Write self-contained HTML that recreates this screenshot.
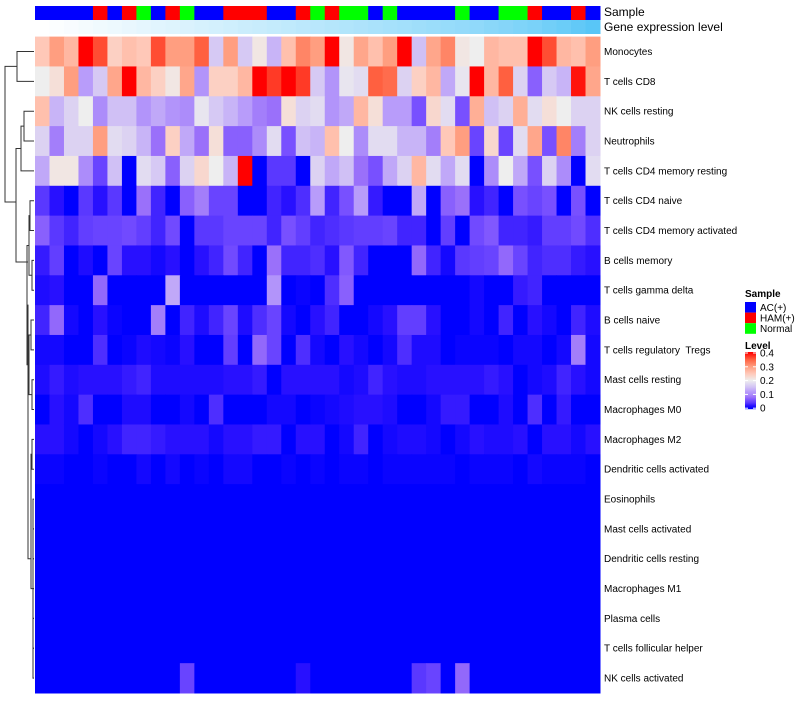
<!DOCTYPE html>
<html><head><meta charset="utf-8"><style>
body{margin:0;background:#fff;width:800px;height:700px;overflow:hidden;font-family:"Liberation Sans",sans-serif}
svg text{font-family:"Liberation Sans",sans-serif}
</style></head><body>
<svg id="c" width="800" height="700"></svg>
<script>
const rowNames=["Monocytes","T cells CD8","NK cells resting","Neutrophils","T cells CD4 memory resting","T cells CD4 naive","T cells CD4 memory activated","B cells memory","T cells gamma delta","B cells naive","T cells regulatory  Tregs","Mast cells resting","Macrophages M0","Macrophages M2","Dendritic cells activated","Eosinophils","Mast cells activated","Dendritic cells resting","Macrophages M1","Plasma cells","T cells follicular helper","NK cells activated"];
const sampleGroups=["A","A","A","A","H","A","H","N","A","H","N","A","A","H","H","H","A","A","H","N","H","N","N","A","N","A","A","A","A","N","A","A","N","N","H","A","A","H","A"];
const geneLevel=[0,0.02,0.04,0.06,0.08,0.1,0.12,0.14,0.16,0.18,0.2,0.22,0.24,0.26,0.28,0.3,0.32,0.34,0.36,0.38,0.4,0.42,0.44,0.46,0.48,0.5,0.52,0.54,0.56,0.58,0.6,0.63,0.66,0.69,0.72,0.76,0.8,0.85,0.9];
const r0=[.25,.3,.27,.4,.36,.24,.26,.25,.36,.3,.3,.35,.16,.3,.16,.21,.14,.26,.32,.3,.4,.21,.29,.26,.3,.4,.15,.29,.32,.21,.2,.27,.26,.26,.4,.36,.27,.26,.3];
const r1=[.2,.22,.3,.12,.16,.29,.4,.27,.24,.21,.29,.11,.24,.24,.27,.4,.37,.4,.37,.16,.11,.19,.18,.35,.34,.17,.24,.27,.13,.19,.4,.27,.35,.17,.07,.16,.14,.39,.29];
const r2=[.26,.14,.17,.2,.1,.15,.15,.11,.13,.11,.1,.19,.16,.14,.12,.09,.08,.22,.17,.18,.11,.13,.27,.22,.12,.12,.06,.23,.18,.06,.28,.15,.17,.28,.18,.22,.2,.17,.17];
const r3=[.17,.09,.17,.17,.3,.18,.17,.14,.08,.24,.13,.08,.22,.07,.07,.1,.18,.06,.15,.14,.26,.2,.1,.18,.18,.14,.14,.09,.25,.3,.05,.23,.05,.18,.29,.06,.32,.09,.17];
const r4=[.13,.21,.21,.1,.05,.15,0,.18,.16,.07,.17,.23,.2,.14,.4,0,.04,.04,0,.17,.13,.15,.08,.06,.13,.17,.27,.18,.13,.18,0,.1,.2,.13,.06,.17,.1,0,.18];
const r5=[.04,.02,0,.04,.02,.04,0,.08,.03,0,.07,.09,.05,.05,0,0,.03,.02,.035,.12,.03,.06,.12,.025,0,0,.13,0,.07,.08,.02,.03,0,.06,.05,.06,0,.06,0];
const r6=[.07,.04,.03,.045,.05,.05,.055,.045,.03,.055,0,.04,.04,.05,.05,.05,.03,.06,.045,.03,.035,.04,.045,.045,.05,.03,.03,0,.045,0,.055,.065,.03,.03,.025,.045,.045,.055,.035];
const r7=[.025,.045,0,.015,0,.05,.02,.02,.01,.02,0,.02,.03,.055,.03,0,.08,.03,.03,.035,.02,.065,.03,0,0,0,.075,.03,.01,.04,.045,.05,.075,.05,.03,.035,.035,.025,.02];
const r8=[.015,.02,0,0,.075,0,0,0,0,.13,0,0,0,0,0,0,.11,0,.005,0,.035,.07,0,0,0,0,0,0,0,0,.01,0,0,.025,.03,0,0,0,0];
const r9=[.03,.075,.01,0,.02,.005,0,0,.09,0,.03,.015,.03,.05,.015,.035,.05,.01,0,.02,.03,0,0,.01,.02,.045,.045,.02,0,0,.01,0,.03,0,.02,.01,0,.03,.015];
const r10=[.01,.01,0,0,.035,0,.005,.015,.01,.005,.02,0,0,.045,0,.075,.05,0,.035,.01,0,.02,.01,0,.01,.035,.015,.015,0,.005,.005,.005,0,.01,.01,0,.01,.09,.01];
const r11=[.015,.025,.015,.02,.02,.02,.025,.03,.015,.015,.015,.015,.015,.02,.02,.025,0,.02,.02,.02,.02,.01,.015,.03,.02,.015,.015,.02,.02,.02,.02,.025,.02,0,.01,.015,.03,.02,.01];
const r12=[0,.02,.01,.035,0,0,.015,.015,0,0,.01,0,.035,0,0,0,.01,.01,0,.005,.01,.015,.02,.02,.015,0,0,.01,.025,.025,0,0,.015,0,.035,0,.025,0,0];
const r13=[.02,.02,.01,0,.01,.02,.03,.03,.025,.02,.02,.02,.01,.02,.02,.025,.025,0,.02,.02,0,.01,.03,0,.01,.015,.015,.01,0,.01,.02,.015,.015,.02,0,.02,.02,.01,.02];
const r14=[.005,.005,0,0,.005,0,0,.01,0,.01,0,.005,0,.01,.01,0,0,.005,0,.005,0,.005,.005,0,.005,.005,.005,.005,.005,0,.005,.005,.005,0,.01,.005,.005,.005,0];
const z=new Array(39).fill(0);
const r21=[0,0,0,0,0,0,0,0,0,0,.05,0,0,0,0,0,0,0,.02,0,0,0,0,0,0,0,.04,.05,0,.075,0,0,0,0,0,0,0,0,0];
const values=[r0,r1,r2,r3,r4,r5,r6,r7,r8,r9,r10,r11,r12,r13,r14,z,z,z,z,z,z,r21];
const legendTicks=["0.4","0.3","0.2","0.1","0"];

const NS="http://www.w3.org/2000/svg";
const svg=document.getElementById('c');
function mk(t,a,p){const e=document.createElementNS(NS,t);for(const k in a)e.setAttribute(k,a[k]);(p||svg).appendChild(e);return e;}
const X0=35,X1=600,Y0=36.6,Y1=693;
const nC=sampleGroups.length,nR=rowNames.length;
const cw=(X1-X0)/nC,rh=(Y1-Y0)/nR;
const xs=i=>X0+i*cw, ys=j=>Y0+j*rh;
const stops=[[0,[0,0,255]],[.02,[40,16,255]],[.04,[90,56,255]],[.06,[120,80,255]],[.08,[154,112,250]],[.1,[172,140,250]],[.12,[184,156,250]],[.15,[208,192,245]],[.2,[238,238,238]],[.25,[255,200,184]],[.3,[255,158,128]],[.35,[255,96,64]],[.4,[255,0,0]]];
function col(v){v=Math.max(0,Math.min(.4,v));for(let i=1;i<stops.length;i++){if(v<=stops[i][0]){const a=stops[i-1],b=stops[i],t=(v-a[0])/(b[0]-a[0]);return 'rgb('+a[1].map((c,k)=>Math.round(c+(b[1][k]-c)*t)).join(',')+')';}}return 'rgb(255,0,0)';}
const gcol={A:'#0000ff',H:'#ff0000',N:'#00ff00'};
function gl(v){const a=[255,255,255],b=[70,192,246];return 'rgb('+a.map((c,k)=>Math.round(c+(b[k]-c)*v)).join(',')+')';}
const cells=mk('g',{});


for(let i=0;i<nC;i++){
  const s=mk('rect',{x:xs(i),y:6,width:cw+0.5,height:14,fill:gcol[sampleGroups[i]]},cells);
  
  
  const g=mk('rect',{x:xs(i),y:20,width:cw+0.5,height:14,fill:gl(geneLevel[i])},cells);
  
  
}
for(let j=0;j<nR;j++){for(let i=0;i<nC;i++){
  const r=mk('rect',{x:xs(i),y:ys(j),width:cw+0.5,height:rh+0.5,fill:col(values[j][i])},cells);
  
  
}
  const t=mk('text',{x:604,y:ys(j)+rh/2+3.5,'font-size':10,fill:'#000',style:'white-space:pre'});t.textContent=rowNames[j];
  
  
}
let t=mk('text',{x:604,y:16,'font-size':12});t.textContent='Sample';


t=mk('text',{x:604,y:31,'font-size':12});t.textContent='Gene expression level';


// dendrogram
const cy=j=>ys(j)+rh/2;
const dg=mk('g',{stroke:'#333','stroke-width':1,fill:'none'});


function br(x,ya,yb,xa,xb){mk('path',{d:`M${xa},${ya}H${x}V${yb}H${xb}`},dg);}
br(17,cy(0),cy(1),34,34);
br(24,cy(2),cy(3),34,34);
const n23=(cy(2)+cy(3))/2;
br(21,n23,cy(4),24,34);
const n234=(n23+cy(4))/2;
br(30,cy(5),cy(6),34,34);
br(32,cy(7),cy(8),34,34);
br(29,(cy(5)+cy(6))/2,(cy(7)+cy(8))/2,30,32);
br(31,cy(9),cy(10),34,34);
br(32,cy(11),cy(12),34,34);
br(29,(cy(9)+cy(10))/2,(cy(11)+cy(12))/2,31,32);
br(27,(cy(5)+cy(8))/2,(cy(9)+cy(12))/2,29,29);
br(32,cy(13),cy(14),34,34);
for(let j=15;j<21;j++){br(33,cy(j),cy(j+1),34,34);}
br(31,(cy(13)+cy(14))/2,(cy(15)+cy(21))/2,32,33);
br(28,(cy(5)+cy(12))/2,(cy(13)+cy(21))/2,27,31);
br(16,n234,262,21,28);
br(5,(cy(0)+cy(1))/2,202,17,16);
// legend
const lg=mk('g',{});


t=mk('text',{x:745,y:297,'font-size':10,'font-weight':'bold'},lg);t.textContent='Sample';
const ln=[['A','AC(+)'],['H','HAM(+)'],['N','Normal']];
ln.forEach((d,k)=>{const r=mk('rect',{x:745,y:302+k*10.6,width:11,height:10.6,fill:gcol[d[0]]},lg);


const tt=mk('text',{x:760,y:311+k*10.6,'font-size':10},lg);tt.textContent=d[1];

});
t=mk('text',{x:745,y:349,'font-size':10,'font-weight':'bold'},lg);t.textContent='Level';
for(let k=0;k<57;k++){mk('rect',{x:745,y:352+k,width:11,height:1.2,fill:col(0.4*(1-k/56))},lg);}
legendTicks.forEach((s,k)=>{const yy=353+k*13.8;const tt=mk('text',{x:760,y:yy+3.5,'font-size':10},lg);tt.textContent=s;


mk('line',{x1:745,x2:748,y1:yy,y2:yy,stroke:'#fff'},lg);mk('line',{x1:753,x2:756,y1:yy,y2:yy,stroke:'#fff'},lg);});
</script>
</body></html>
